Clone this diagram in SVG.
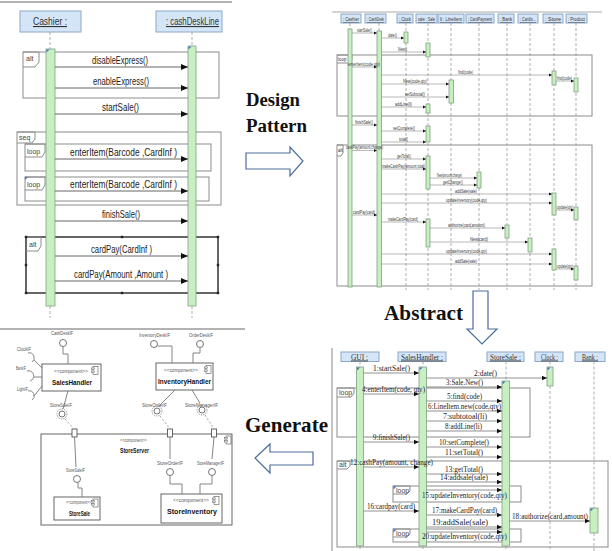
<svg xmlns="http://www.w3.org/2000/svg" width="612" height="551" viewBox="0 0 612 551">
<defs>
  <marker id="ah" markerUnits="userSpaceOnUse" markerWidth="8" markerHeight="7" refX="7" refY="3.5" orient="auto"><path d="M0,0.5 L7,3.5 L0,6.5 z" fill="#111"/></marker>
  <marker id="ahm" markerUnits="userSpaceOnUse" markerWidth="6" markerHeight="5" refX="5" refY="2.5" orient="auto"><path d="M0,0.3 L5,2.5 L0,4.7 z" fill="#111"/></marker>
  <marker id="ahs" markerUnits="userSpaceOnUse" markerWidth="4" markerHeight="4" refX="3.5" refY="1.75" orient="auto"><path d="M0,0 L3.5,1.75 L0,3.5 z" fill="#111"/></marker>
  <g id="cicon"><rect x="0" y="0" width="5" height="8" fill="#fff" stroke="#555" stroke-width="0.6"/><rect x="-1.5" y="1.5" width="3" height="1.5" fill="#fff" stroke="#555" stroke-width="0.5"/><rect x="-1.5" y="4.5" width="3" height="1.5" fill="#fff" stroke="#555" stroke-width="0.5"/></g>
  <path id="tick" d="M0,0 h3 l-3,3 z" fill="#3b73c4"/>
</defs>
<style>
  .rule{stroke:#666;stroke-width:1}
  .hdr{fill:#d3e5f7;stroke:#8ea8c8;stroke-width:1}
  .bar{fill:#c8efc2;stroke:#80a080;stroke-width:0.8}
  .life{stroke:#9a9a9a;stroke-width:0.8;stroke-dasharray:3 2;fill:none}
  .frame{fill:none;stroke:#8c8c8c;stroke-width:1}
  .msg{stroke:#666;stroke-width:1;fill:none;marker-end:url(#ah)}
  .msgm{stroke:#777;stroke-width:0.8;fill:none;marker-end:url(#ahm)}
  .msgs{stroke:#888;stroke-width:0.6;fill:none;marker-end:url(#ahs)}
  .t1{font-family:"Liberation Sans",Arial,sans-serif;font-size:11.5px;fill:#222}
  .th{font-family:"Liberation Sans",Arial,sans-serif;font-size:11px;fill:#333;text-decoration:underline}
  .ft{font-family:"Liberation Sans",Arial,sans-serif;font-size:7px;fill:#444}
  .ts{font-family:"Liberation Sans",Arial,sans-serif;font-size:4.5px;fill:#333}
  .tb{font-family:"Liberation Serif","Times New Roman",serif;font-size:8px;fill:#222}
  .tbh{font-family:"Liberation Serif","Times New Roman",serif;font-size:8px;fill:#333;text-decoration:underline}
  .big{font-family:"Liberation Serif","Times New Roman",serif;font-weight:bold;fill:#111}
  .cbox{fill:#fff;stroke:#555;stroke-width:0.9}
  .cst{font-family:"Liberation Sans",Arial,sans-serif;font-size:5.5px;fill:#555}
  .cnm{font-family:"Liberation Sans",Arial,sans-serif;font-size:7.5px;font-weight:bold;fill:#111}
  .clb{font-family:"Liberation Sans",Arial,sans-serif;font-size:5px;fill:#555}
  .wire{stroke:#777;stroke-width:0.9;fill:none}
  .dwire{stroke:#888;stroke-width:0.8;fill:none;stroke-dasharray:2 2}
  .ball{fill:#fff;stroke:#666;stroke-width:0.9}
  .hollow{fill:#fff;stroke:#4a6d9c;stroke-width:1.2}
</style>
<rect x="0" y="0" width="612" height="551" fill="#fff"/>

<!-- ===== Cashier / cashDeskLine sequence ===== -->
<line class="rule" x1="0" y1="2" x2="232" y2="2"/>
<g id="tl-frames">
  <rect class="frame" x="23" y="52" width="196" height="46"/>
  <path class="frame" d="M23,52 H39 V62 L35,67 H23"/>
  <text class="ft" x="26" y="61">alt</text>
  <rect class="frame" x="17" y="132" width="204" height="73"/>
  <path class="frame" d="M17,132 H35 V139 L32,143 H17"/>
  <text class="ft" x="19" y="140">seq</text>
  <rect class="frame" x="25" y="144" width="186" height="27"/>
  <path class="frame" d="M25,144 H45 V152 L42,157 H25"/>
  <text class="ft" x="27" y="154">loop</text>
  <rect class="frame" x="25" y="177" width="184" height="24"/>
  <path class="frame" d="M25,177 H45 V185 L42,190 H25"/>
  <text class="ft" x="27" y="187">loop</text>
  <use href="#tick" x="25" y="177"/>
  <rect x="26" y="237" width="192" height="56" fill="none" stroke="#333" stroke-width="1.5"/>
  <path class="frame" d="M26,237 H41 V246 L38,251 H26"/>
  <text class="ft" x="29" y="247">alt</text>
  <g fill="#222">
    <rect x="24.8" y="235.8" width="2.4" height="2.4"/><rect x="120.8" y="235.8" width="2.4" height="2.4"/><rect x="216.8" y="235.8" width="2.4" height="2.4"/>
    <rect x="24.8" y="263.8" width="2.4" height="2.4"/><rect x="216.8" y="263.8" width="2.4" height="2.4"/>
    <rect x="24.8" y="291.8" width="2.4" height="2.4"/><rect x="120.8" y="291.8" width="2.4" height="2.4"/><rect x="216.8" y="291.8" width="2.4" height="2.4"/>
  </g>
</g>
<g id="tl-cashier">
  <rect class="hdr" x="20" y="11" width="61" height="21"/>
  <text class="th" x="33" y="25" textLength="34" lengthAdjust="spacingAndGlyphs">Cashier :</text>
  <line class="life" x1="50" y1="32" x2="50" y2="49"/>
  <rect class="bar" x="46" y="49" width="9" height="257"/>
  <use href="#tick" x="46.5" y="49.5"/>
  <line class="life" x1="50" y1="306" x2="50" y2="318"/>
</g>
<g id="tl-cashdeskline">
  <rect class="hdr" x="156" y="11" width="66" height="21"/>
  <text class="th" x="166" y="25" textLength="53" lengthAdjust="spacingAndGlyphs">: cashDeskLine</text>
  <line class="life" x1="192" y1="32" x2="192" y2="46"/>
  <rect class="bar" x="188" y="46" width="8" height="260"/>
  <use href="#tick" x="188.5" y="46.5"/>
  <line class="life" x1="192" y1="306" x2="192" y2="318"/>
</g>
<g id="tl-connectors">
  <line class="msg" x1="55" y1="67" x2="188" y2="67"/>
  <line class="msg" x1="55" y1="88" x2="188" y2="88"/>
  <line class="msg" x1="55" y1="114" x2="188" y2="114"/>
  <line class="msg" x1="55" y1="159" x2="188" y2="159"/>
  <line class="msg" x1="55" y1="191" x2="188" y2="191"/>
  <line class="msg" x1="55" y1="221" x2="188" y2="221"/>
  <line class="msg" x1="55" y1="256" x2="188" y2="256"/>
  <line class="msg" x1="55" y1="281" x2="188" y2="281"/>
  <text class="t1" x="92" y="64" textLength="56" lengthAdjust="spacingAndGlyphs">disableExpress()</text>
  <text class="t1" x="93" y="85" textLength="56" lengthAdjust="spacingAndGlyphs">enableExpress()</text>
  <text class="t1" x="102" y="111" textLength="37" lengthAdjust="spacingAndGlyphs">startSale()</text>
  <text class="t1" x="70" y="156" textLength="107" lengthAdjust="spacingAndGlyphs">enterItem(Barcode ,CardInf )</text>
  <text class="t1" x="70" y="188" textLength="107" lengthAdjust="spacingAndGlyphs">enterItem(Barcode ,CardInf )</text>
  <text class="t1" x="102" y="218" textLength="38" lengthAdjust="spacingAndGlyphs">finishSale()</text>
  <text class="t1" x="91" y="253" textLength="61" lengthAdjust="spacingAndGlyphs">cardPay(CardInf )</text>
  <text class="t1" x="74" y="278" textLength="94" lengthAdjust="spacingAndGlyphs">cardPay(Amount ,Amount )</text>
</g>

<!-- ===== Transition labels and arrows ===== -->
<g id="step-design-pattern">
  <text class="big" x="246" y="106" font-size="18" textLength="54" lengthAdjust="spacingAndGlyphs">Design</text>
  <text class="big" x="246" y="132" font-size="18" textLength="61" lengthAdjust="spacingAndGlyphs">Pattern</text>
  <polygon class="hollow" points="246,153 290,153 290,147 303,161 290,176 290,169 246,169"/>
</g>
<g id="step-abstract">
  <text class="big" x="384" y="320" font-size="20" textLength="79" lengthAdjust="spacingAndGlyphs">Abstract</text>
  <polygon class="hollow" points="473,291 488,291 488,329 497,329 482,344 467,329 473,329"/>
</g>
<g id="step-generate">
  <text class="big" x="245" y="432" font-size="21" textLength="83" lengthAdjust="spacingAndGlyphs">Generate</text>
  <polygon class="hollow" points="313,452 270,452 270,444 255,458 270,473 270,465 313,465"/>
</g>

<!-- ===== Detailed design-pattern sequence ===== -->
<line x1="332" y1="12" x2="602" y2="12" stroke="#aaa" stroke-width="1"/>
<g id="tr-frames">
  <rect class="frame" x="337" y="55" width="255" height="61" stroke-width="0.8"/>
  <path class="frame" d="M337,55 H352 V60 L349,63 H337" stroke-width="0.6"/>
  <text class="ts" x="338" y="61">loop</text>
  <rect class="frame" x="337" y="145" width="255" height="141" stroke-width="0.8"/>
  <path class="frame" d="M337,145 H343 V153 L341,156 H337" stroke-width="0.6"/>
  <text class="ts" x="338" y="152">alt</text>
</g>
<g id="tr-cashier">
  <rect class="hdr" x="341" y="14" width="20" height="9" stroke-width="0.6"/>
  <text class="ts" x="343" y="21" textLength="16" lengthAdjust="spacingAndGlyphs" text-decoration="underline">: Cashier</text>
  <line class="life" x1="350" y1="23" x2="350" y2="29"/>
  <rect class="bar" x="348" y="29" width="4" height="258" stroke-width="0.5"/>
</g>
<g id="tr-cashdesk">
  <rect class="hdr" x="365" y="14" width="21" height="9" stroke-width="0.6"/>
  <text class="ts" x="367" y="21" textLength="17" lengthAdjust="spacingAndGlyphs" text-decoration="underline">: CashDesk</text>
  <line class="life" x1="379" y1="23" x2="379" y2="31"/>
  <rect class="bar" x="377" y="31" width="4.5" height="256" stroke-width="0.5"/>
</g>
<g id="tr-clock">
  <rect class="hdr" x="397" y="14" width="16" height="9" stroke-width="0.6"/>
  <text class="ts" x="399" y="21" textLength="12" lengthAdjust="spacingAndGlyphs" text-decoration="underline">: Clock</text>
  <line class="life" x1="406" y1="23" x2="406" y2="290" stroke-width="0.5"/>
  <rect class="bar" x="404" y="32" width="4" height="11" stroke-width="0.5"/>
</g>
<g id="tr-sale">
  <rect class="hdr" x="416" y="14" width="21" height="9" stroke-width="0.6"/>
  <text class="ts" x="418" y="21" textLength="17" lengthAdjust="spacingAndGlyphs" text-decoration="underline">sale : Sale</text>
  <line class="life" x1="428" y1="23" x2="428" y2="290" stroke-width="0.5"/>
  <rect class="bar" x="426" y="43" width="4" height="14" stroke-width="0.5"/>
  <rect class="bar" x="426" y="104" width="4" height="9" stroke-width="0.5"/>
  <rect class="bar" x="426" y="126" width="4" height="16" stroke-width="0.5"/>
  <rect class="bar" x="426" y="156" width="4" height="33" stroke-width="0.5"/>
  <rect class="bar" x="426" y="219" width="4" height="28" stroke-width="0.5"/>
</g>
<g id="tr-lineitem">
  <rect class="hdr" x="438" y="14" width="26" height="9" stroke-width="0.6"/>
  <text class="ts" x="440" y="21" textLength="22" lengthAdjust="spacingAndGlyphs" text-decoration="underline">li : LineItem</text>
  <line class="life" x1="451" y1="23" x2="451" y2="290" stroke-width="0.5"/>
  <rect class="bar" x="449" y="80" width="4.5" height="23" stroke-width="0.5"/>
</g>
<g id="tr-cardpayment">
  <rect class="hdr" x="466" y="14" width="28" height="9" stroke-width="0.6"/>
  <text class="ts" x="468" y="21" textLength="24" lengthAdjust="spacingAndGlyphs" text-decoration="underline">: CardPayment</text>
  <line class="life" x1="479" y1="23" x2="479" y2="290" stroke-width="0.5"/>
  <rect class="bar" x="477" y="172" width="4" height="16" stroke-width="0.5"/>
</g>
<g id="tr-bank">
  <rect class="hdr" x="498" y="14" width="16" height="9" stroke-width="0.6"/>
  <text class="ts" x="500" y="21" textLength="12" lengthAdjust="spacingAndGlyphs" text-decoration="underline">: Bank</text>
  <line class="life" x1="507" y1="23" x2="507" y2="290" stroke-width="0.5"/>
  <rect class="bar" x="505" y="225" width="4" height="13" stroke-width="0.5"/>
</g>
<g id="tr-cardissuer">
  <rect class="hdr" x="518" y="14" width="20" height="9" stroke-width="0.6"/>
  <text class="ts" x="520" y="21" textLength="16" lengthAdjust="spacingAndGlyphs" text-decoration="underline">: CardIs...</text>
  <line class="life" x1="530" y1="23" x2="530" y2="290" stroke-width="0.5"/>
  <rect class="bar" x="528" y="238" width="4" height="14" stroke-width="0.5"/>
</g>
<g id="tr-store">
  <rect class="hdr" x="543" y="14" width="20" height="9" stroke-width="0.6"/>
  <text class="ts" x="545" y="21" textLength="16" lengthAdjust="spacingAndGlyphs" text-decoration="underline">: Store</text>
  <line class="life" x1="554" y1="23" x2="554" y2="290" stroke-width="0.5"/>
  <rect class="bar" x="552" y="71" width="4" height="14" stroke-width="0.5"/>
  <rect class="bar" x="552" y="193" width="4" height="22" stroke-width="0.5"/>
  <rect class="bar" x="552" y="249" width="4" height="21" stroke-width="0.5"/>
</g>
<g id="tr-product">
  <rect class="hdr" x="566" y="14" width="21" height="9" stroke-width="0.6"/>
  <text class="ts" x="568" y="21" textLength="17" lengthAdjust="spacingAndGlyphs" text-decoration="underline">: Product</text>
  <line class="life" x1="576" y1="23" x2="576" y2="290" stroke-width="0.5"/>
  <rect class="bar" x="574" y="78" width="4" height="14" stroke-width="0.5"/>
  <rect class="bar" x="574" y="207" width="4" height="13" stroke-width="0.5"/>
  <rect class="bar" x="574" y="266" width="4" height="14" stroke-width="0.5"/>
</g>
<g id="tr-connectors">
  <line class="msgs" x1="352" y1="33" x2="377" y2="33"/>
  <line class="msgs" x1="381.5" y1="38" x2="404" y2="38"/>
  <line class="msgs" x1="381.5" y1="52" x2="426" y2="52"/>
  <line class="msgs" x1="352" y1="67" x2="377" y2="67"/>
  <line class="msgs" x1="381.5" y1="75" x2="552" y2="75"/>
  <line class="msgs" x1="556" y1="81" x2="574" y2="81"/>
  <line class="msgs" x1="381.5" y1="84" x2="449" y2="84"/>
  <line class="msgs" x1="381.5" y1="97" x2="449" y2="97"/>
  <line class="msgs" x1="381.5" y1="107" x2="426" y2="107"/>
  <line class="msgs" x1="352" y1="125" x2="377" y2="125"/>
  <line class="msgs" x1="381.5" y1="131" x2="426" y2="131"/>
  <line class="msgs" x1="381.5" y1="142" x2="426" y2="142"/>
  <line class="msgs" x1="352" y1="150.5" x2="377" y2="150.5"/>
  <line class="msgs" x1="381.5" y1="159" x2="426" y2="159"/>
  <line class="msgs" x1="381.5" y1="169" x2="426" y2="169"/>
  <line class="msgs" x1="430" y1="178" x2="477" y2="178"/>
  <line class="msgs" x1="430" y1="185" x2="477" y2="185"/>
  <line class="msgs" x1="381.5" y1="194" x2="552" y2="194"/>
  <line class="msgs" x1="381.5" y1="203" x2="552" y2="203"/>
  <line class="msgs" x1="556" y1="210" x2="574" y2="210"/>
  <line class="msgs" x1="352" y1="215" x2="377" y2="215"/>
  <line class="msgs" x1="381.5" y1="222" x2="426" y2="222"/>
  <line class="msgs" x1="430" y1="228" x2="505" y2="228"/>
  <line class="msgs" x1="430" y1="242" x2="528" y2="242"/>
  <line class="msgs" x1="381.5" y1="254" x2="552" y2="254"/>
  <line class="msgs" x1="381.5" y1="264" x2="552" y2="264"/>
  <line class="msgs" x1="556" y1="269" x2="574" y2="269"/>
  <text class="ts" x="357" y="31.5" textLength="15" lengthAdjust="spacingAndGlyphs">startSale()</text>
  <text class="ts" x="388" y="36.5" textLength="9" lengthAdjust="spacingAndGlyphs">date()</text>
  <text class="ts" x="398" y="50.5" textLength="9" lengthAdjust="spacingAndGlyphs">New()</text>
  <text class="ts" x="348" y="66" textLength="32" lengthAdjust="spacingAndGlyphs">enterItem(code,qty)</text>
  <text class="ts" x="458" y="73.5" textLength="15" lengthAdjust="spacingAndGlyphs">find(code)</text>
  <text class="ts" x="557" y="79.5" textLength="15" lengthAdjust="spacingAndGlyphs">find(code)</text>
  <text class="ts" x="403" y="82.5" textLength="24" lengthAdjust="spacingAndGlyphs">New(code,qty)</text>
  <text class="ts" x="405" y="95.5" textLength="20" lengthAdjust="spacingAndGlyphs">setSubtotal()</text>
  <text class="ts" x="395" y="105.5" textLength="17" lengthAdjust="spacingAndGlyphs">addLine(li)</text>
  <text class="ts" x="355" y="123.5" textLength="18" lengthAdjust="spacingAndGlyphs">finishSale()</text>
  <text class="ts" x="393" y="129.5" textLength="22" lengthAdjust="spacingAndGlyphs">setComplete()</text>
  <text class="ts" x="399" y="140.5" textLength="9" lengthAdjust="spacingAndGlyphs">total()</text>
  <text class="ts" x="346" y="149" textLength="37" lengthAdjust="spacingAndGlyphs">cashPay(amount,change)</text>
  <text class="ts" x="397" y="157.5" textLength="14" lengthAdjust="spacingAndGlyphs">getTotal()</text>
  <text class="ts" x="382" y="167.5" textLength="43" lengthAdjust="spacingAndGlyphs">makeCashPay(amount,total)</text>
  <text class="ts" x="437" y="176.5" textLength="25" lengthAdjust="spacingAndGlyphs">New(amount,change)</text>
  <text class="ts" x="443" y="183.5" textLength="20" lengthAdjust="spacingAndGlyphs">getChange()</text>
  <text class="ts" x="455" y="192.5" textLength="22" lengthAdjust="spacingAndGlyphs">addSale(sale)</text>
  <text class="ts" x="446" y="201.5" textLength="41" lengthAdjust="spacingAndGlyphs">updateInventory(code,qty)</text>
  <text class="ts" x="557" y="208.5" textLength="16" lengthAdjust="spacingAndGlyphs">update(qty)</text>
  <text class="ts" x="353" y="213.5" textLength="22" lengthAdjust="spacingAndGlyphs">cardPay(card)</text>
  <text class="ts" x="388" y="220.5" textLength="30" lengthAdjust="spacingAndGlyphs">makeCardPay(card)</text>
  <text class="ts" x="448" y="226.5" textLength="37" lengthAdjust="spacingAndGlyphs">authorize(card,amount)</text>
  <text class="ts" x="470" y="240.5" textLength="18" lengthAdjust="spacingAndGlyphs">New(card)</text>
  <text class="ts" x="446" y="252.5" textLength="41" lengthAdjust="spacingAndGlyphs">updateInventory(code,qty)</text>
  <text class="ts" x="455" y="262.5" textLength="22" lengthAdjust="spacingAndGlyphs">addSale(sale)</text>
  <text class="ts" x="557" y="267.5" textLength="16" lengthAdjust="spacingAndGlyphs">update(qty)</text>
</g>

<!-- ===== Abstract sequence ===== -->
<line x1="332" y1="348" x2="332" y2="551" stroke="#888" stroke-width="1"/>
<g id="br-frames">
  <rect class="frame" x="337" y="388" width="193" height="49"/>
  <path class="frame" d="M337,388 H354 V393 L351,397 H337" stroke-width="0.8"/>
  <text class="ft" x="339" y="395" font-size="5.5">loop</text>
  <rect class="frame" x="337" y="461" width="271" height="86"/>
  <path class="frame" d="M337,461 H350 V466 L347,469 H337" stroke-width="0.8"/>
  <text class="ft" x="339" y="467" font-size="5.5">alt</text>
  <rect class="frame" x="393" y="486" width="128" height="16" stroke-width="0.8"/>
  <path class="frame" d="M393,486 H410 V491 L407,494 H393" stroke-width="0.7"/>
  <text class="ft" x="396" y="492.5" font-size="5">loop</text>
  <use href="#tick" x="393.5" y="486.5"/>
  <rect class="frame" x="393" y="529" width="128" height="13" stroke-width="0.8"/>
  <path class="frame" d="M393,529 H410 V534 L407,537 H393" stroke-width="0.7"/>
  <text class="ft" x="396" y="535.5" font-size="5">loop</text>
  <use href="#tick" x="393.5" y="529.5"/>
</g>
<g id="br-gui">
  <rect class="hdr" x="341" y="352" width="38" height="9.5"/>
  <text class="tbh" x="351" y="359.5" textLength="17" lengthAdjust="spacingAndGlyphs">GUI :</text>
  <line class="life" x1="360" y1="361.5" x2="360" y2="367"/>
  <rect class="bar" x="356.5" y="367" width="7" height="179"/>
  <use href="#tick" x="357" y="367.5"/>
  <line class="life" x1="360" y1="546" x2="360" y2="551"/>
</g>
<g id="br-saleshandler">
  <rect class="hdr" x="398" y="352" width="48" height="9.5"/>
  <text class="tbh" x="401" y="359.5" textLength="42" lengthAdjust="spacingAndGlyphs">SalesHandler :</text>
  <line class="life" x1="423" y1="361.5" x2="423" y2="367"/>
  <rect class="bar" x="419" y="367" width="7.5" height="179"/>
  <use href="#tick" x="419.5" y="367.5"/>
  <line class="life" x1="423" y1="546" x2="423" y2="551"/>
</g>
<g id="br-storesale">
  <rect class="hdr" x="487" y="352" width="37" height="9.5"/>
  <text class="tbh" x="490" y="359.5" textLength="31" lengthAdjust="spacingAndGlyphs">StoreSale :</text>
  <line class="life" x1="506" y1="361.5" x2="506" y2="381"/>
  <rect class="bar" x="502" y="381" width="7.5" height="165"/>
  <use href="#tick" x="502.5" y="381.5"/>
  <line class="life" x1="506" y1="546" x2="506" y2="551"/>
</g>
<g id="br-clock">
  <rect class="hdr" x="535" y="352" width="28" height="9.5"/>
  <text class="tbh" x="541" y="359.5" textLength="17" lengthAdjust="spacingAndGlyphs">Clock :</text>
  <line class="life" x1="550" y1="361.5" x2="550" y2="367"/>
  <rect class="bar" x="547" y="367" width="6" height="19"/>
  <use href="#tick" x="547.5" y="367.5"/>
  <line class="life" x1="550" y1="386" x2="550" y2="551"/>
</g>
<g id="br-bank">
  <rect class="hdr" x="575" y="352" width="30" height="9.5"/>
  <text class="tbh" x="582" y="359.5" textLength="16" lengthAdjust="spacingAndGlyphs">Bank :</text>
  <line class="life" x1="594" y1="361.5" x2="594" y2="508"/>
  <rect class="bar" x="590" y="508" width="8" height="25"/>
  <use href="#tick" x="590.5" y="508.5"/>
  <line class="life" x1="594" y1="533" x2="594" y2="551"/>
</g>
<g id="br-connectors">
  <line class="msgm" x1="363.5" y1="373" x2="419" y2="373"/>
  <line class="msgm" x1="426.5" y1="378" x2="547" y2="378"/>
  <line class="msgm" x1="426.5" y1="387" x2="502" y2="387" stroke="#444" stroke-width="1.6"/>
  <line class="msgm" x1="363.5" y1="394" x2="419" y2="394"/>
  <line class="msgm" x1="426.5" y1="401" x2="502" y2="401"/>
  <line class="msgm" x1="426.5" y1="411" x2="502" y2="411"/>
  <line class="msgm" x1="426.5" y1="421" x2="502" y2="421"/>
  <line class="msgm" x1="426.5" y1="431" x2="502" y2="431"/>
  <line class="msgm" x1="363.5" y1="442" x2="419" y2="442"/>
  <line class="msgm" x1="426.5" y1="447" x2="502" y2="447"/>
  <line class="msgm" x1="426.5" y1="457" x2="502" y2="457"/>
  <line class="msgm" x1="363.5" y1="467" x2="419" y2="467"/>
  <line class="msgm" x1="426.5" y1="474" x2="502" y2="474"/>
  <line class="msgm" x1="426.5" y1="482" x2="502" y2="482"/>
  <line class="msgm" x1="426.5" y1="490" x2="502" y2="490"/>
  <line class="msgm" x1="363.5" y1="511" x2="419" y2="511"/>
  <line class="msgm" x1="426.5" y1="515" x2="502" y2="515"/>
  <line class="msgm" x1="509.5" y1="521" x2="590" y2="521"/>
  <line class="msgm" x1="426.5" y1="527" x2="502" y2="527"/>
  <line class="msgm" x1="426.5" y1="532" x2="502" y2="532"/>
  <text class="tb" x="373" y="371" textLength="37" lengthAdjust="spacingAndGlyphs">1:startSale()</text>
  <text class="tb" x="474" y="376" textLength="23" lengthAdjust="spacingAndGlyphs">2:date()</text>
  <text class="tb" x="446" y="385" textLength="37" lengthAdjust="spacingAndGlyphs">3:Sale.New()</text>
  <text class="tb" x="362" y="392" textLength="63" lengthAdjust="spacingAndGlyphs">4:enterItem(code, qty)</text>
  <text class="tb" x="447" y="399" textLength="35" lengthAdjust="spacingAndGlyphs">5:find(code)</text>
  <text class="tb" x="428" y="409" textLength="73" lengthAdjust="spacingAndGlyphs">6:LineItem.new(code,qty)</text>
  <text class="tb" x="443" y="419" textLength="44" lengthAdjust="spacingAndGlyphs">7:subtotoal(li)</text>
  <text class="tb" x="445" y="429" textLength="37" lengthAdjust="spacingAndGlyphs">8:addLine(li)</text>
  <text class="tb" x="373" y="440" textLength="37" lengthAdjust="spacingAndGlyphs">9:finishSale()</text>
  <text class="tb" x="439" y="445" textLength="50" lengthAdjust="spacingAndGlyphs">10:setComplete()</text>
  <text class="tb" x="445" y="455" textLength="38" lengthAdjust="spacingAndGlyphs">11:setTotal()</text>
  <text class="tb" x="350" y="465" textLength="83" lengthAdjust="spacingAndGlyphs">12:cashPay(amount, change)</text>
  <text class="tb" x="445" y="472" textLength="38" lengthAdjust="spacingAndGlyphs">13:getTotal()</text>
  <text class="tb" x="440" y="480" textLength="48" lengthAdjust="spacingAndGlyphs">14:addsale(sale)</text>
  <text class="tb" x="422" y="498" textLength="85" lengthAdjust="spacingAndGlyphs">15:updateInventory(code,qty)</text>
  <text class="tb" x="367" y="509" textLength="48" lengthAdjust="spacingAndGlyphs">16:cardpay(card)</text>
  <text class="tb" x="432" y="513" textLength="65" lengthAdjust="spacingAndGlyphs">17:makeCardPay(card)</text>
  <text class="tb" x="512" y="519" textLength="76" lengthAdjust="spacingAndGlyphs">18:authorize(card,amount)</text>
  <text class="tb" x="432" y="525" textLength="56" lengthAdjust="spacingAndGlyphs">19:addSale(sale)</text>
  <text class="tb" x="422" y="539" textLength="85" lengthAdjust="spacingAndGlyphs">20:updateInventory(code,qty)</text>
</g>

<!-- ===== Generated component structure ===== -->
<line class="rule" x1="0" y1="329" x2="245" y2="329"/>
<g id="c-saleshandler">
  <rect class="cbox" x="42" y="364" width="59" height="27"/>
  <text class="cst" x="54" y="372.5" textLength="34" lengthAdjust="spacingAndGlyphs">&lt;&lt;component&gt;&gt;</text>
  <use href="#cicon" x="93" y="366.5"/>
  <text class="cnm" x="52" y="385" textLength="40" lengthAdjust="spacingAndGlyphs">SalesHandler</text>
</g>
<g id="c-inventoryhandler">
  <rect class="cbox" x="156" y="363" width="57" height="27"/>
  <text class="cst" x="164" y="371.5" textLength="34" lengthAdjust="spacingAndGlyphs">&lt;&lt;component&gt;&gt;</text>
  <use href="#cicon" x="206" y="365.5"/>
  <text class="cnm" x="158" y="384" textLength="53" lengthAdjust="spacingAndGlyphs">InventoryHandler</text>
</g>
<g id="c-storeserver">
  <rect class="cbox" x="41" y="434" width="191" height="91"/>
  <text class="cst" x="120" y="442" textLength="27" lengthAdjust="spacingAndGlyphs">&lt;&lt;component&gt;&gt;</text>
  <use href="#cicon" x="226" y="436"/>
  <text class="cnm" x="120" y="453" textLength="29" lengthAdjust="spacingAndGlyphs" font-size="6.5">StoreServer</text>
  <rect class="cbox" x="72" y="429" width="5" height="8"/>
  <rect class="cbox" x="167.5" y="429" width="5" height="8"/>
  <rect class="cbox" x="211.5" y="429" width="5" height="8"/>
</g>
<g id="c-storesale">
  <rect class="cbox" x="54" y="497" width="46" height="23"/>
  <text class="cst" x="66" y="504" textLength="25" lengthAdjust="spacingAndGlyphs">&lt;&lt;component&gt;&gt;</text>
  <use href="#cicon" x="93" y="499"/>
  <text class="cnm" x="69" y="516" textLength="21" lengthAdjust="spacingAndGlyphs" font-size="6.5">StoreSale</text>
</g>
<g id="c-storeinventory">
  <rect class="cbox" x="161" y="494" width="61" height="29"/>
  <text class="cst" x="173" y="502" textLength="36" lengthAdjust="spacingAndGlyphs">&lt;&lt;component&gt;&gt;</text>
  <use href="#cicon" x="214" y="496.5"/>
  <text class="cnm" x="167" y="514" textLength="50" lengthAdjust="spacingAndGlyphs">StoreInventory</text>
</g>
<g id="c-interfaces">
  <text class="clb" x="51" y="335" textLength="22" lengthAdjust="spacingAndGlyphs">CashDeskIF</text>
  <text class="clb" x="17" y="351" textLength="14" lengthAdjust="spacingAndGlyphs">ClockIF</text>
  <text class="clb" x="16" y="370" textLength="10" lengthAdjust="spacingAndGlyphs">BankIF</text>
  <text class="clb" x="17" y="391" textLength="11" lengthAdjust="spacingAndGlyphs">LightIF</text>
  <text class="clb" x="50" y="407" textLength="22" lengthAdjust="spacingAndGlyphs">StoreSaleIF</text>
  <text class="clb" x="139" y="337" textLength="31" lengthAdjust="spacingAndGlyphs">InventoryDeskIF</text>
  <text class="clb" x="189" y="337" textLength="24" lengthAdjust="spacingAndGlyphs">OrderDeskIF</text>
  <text class="clb" x="142" y="407" textLength="25" lengthAdjust="spacingAndGlyphs">StoreOrderIF</text>
  <text class="clb" x="185" y="407" textLength="33" lengthAdjust="spacingAndGlyphs">StoreManagerIF</text>
  <text class="clb" x="66" y="472" textLength="19" lengthAdjust="spacingAndGlyphs">StoreSaleIF</text>
  <text class="clb" x="157" y="465" textLength="26" lengthAdjust="spacingAndGlyphs">StoreOrderIF</text>
  <text class="clb" x="197" y="465" textLength="27" lengthAdjust="spacingAndGlyphs">StoreManagerIF</text>
</g>
<g id="c-connectors">
  <path class="wire" d="M63,346.5 V354 H68 V364"/>
  <circle class="ball" cx="63" cy="343" r="3.5"/>
  <path class="wire" d="M34,360 L42,368 M34,377 H42 M34,396 L42,386"/>
  <path class="wire" d="M28,353 A5,5 0 0 1 32,362 M27,371 A5,5 0 0 1 30,381 M28,391 A5,5 0 0 1 32,400"/>
  <path class="wire" d="M157.5,346 H172 V363"/>
  <circle class="ball" cx="154" cy="344" r="3.5"/>
  <path class="wire" d="M200,347.5 V353 H193 V363"/>
  <circle class="ball" cx="200" cy="344" r="3.5"/>
  <path class="wire" d="M68,391 L63,409"/>
  <circle class="ball" cx="62" cy="414" r="3"/>
  <circle cx="62" cy="414" r="5" fill="none" stroke="#777" stroke-width="0.7" stroke-dasharray="1.5 1"/>
  <path class="dwire" d="M65,419 L74,429"/>
  <path class="wire" d="M175,390 L159,406"/>
  <circle class="ball" cx="157" cy="411" r="3"/>
  <circle cx="157" cy="411" r="5" fill="none" stroke="#777" stroke-width="0.7" stroke-dasharray="1.5 1"/>
  <path class="dwire" d="M160,416 L170,429"/>
  <path class="wire" d="M192,390 L200,403"/>
  <circle class="ball" cx="202" cy="410" r="3"/>
  <circle cx="202" cy="410" r="5" fill="none" stroke="#777" stroke-width="0.7" stroke-dasharray="1.5 1"/>
  <path class="dwire" d="M205,415 L214,429"/>
  <path class="wire" d="M74.5,437 L76,467"/>
  <circle class="ball" cx="77" cy="479" r="3.5"/>
  <path class="wire" d="M78,482.5 V488 H82 V497"/>
  <path class="wire" d="M170,437 V459"/>
  <circle class="ball" cx="170" cy="472" r="3.5"/>
  <path class="wire" d="M170,475.5 V484 H182 V494"/>
  <path class="wire" d="M214,437 L212,459"/>
  <circle class="ball" cx="212" cy="472" r="3.5"/>
  <path class="wire" d="M212,475.5 V484 H200 V494"/>
</g>
</svg>
